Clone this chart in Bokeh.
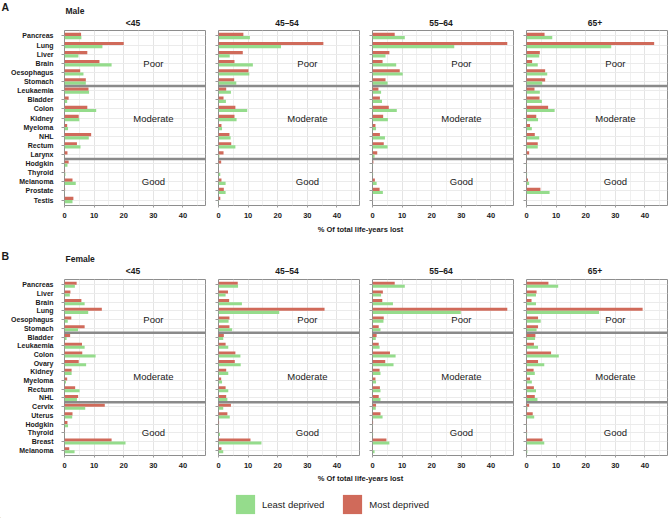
from bokeh.plotting import figure
from bokeh.models import FactorRange, Range1d, FixedTicker, ColumnDataSource, Legend, LegendItem
from bokeh.layouts import column, row
from bokeh.transform import dodge
from bokeh.core.properties import value
from bokeh.embed import file_html
from bokeh.resources import INLINE

# ---------------- data ----------------
ages = ["<45", "45–54", "55–64", "65+"]
groups = ["Poor", "Moderate", "Good"]

male_poor = ["Pancreas", "Lung", "Liver", "Brain", "Oesophagus", "Stomach"]
male_moderate = ["Leukaemia", "Bladder", "Colon", "Kidney", "Myeloma", "NHL", "Rectum", "Larynx"]
male_good = ["Hodgkin", "Thyroid", "Melanoma", "Prostate", "Testis"]

female_poor = ["Pancreas", "Liver", "Brain", "Lung", "Oesophagus", "Stomach"]
female_moderate = ["Bladder", "Leukaemia", "Colon", "Ovary", "Kidney", "Myeloma", "Rectum", "NHL"]
female_good = ["Cervix", "Uterus", "Hodgkin", "Thyroid", "Breast", "Melanoma"]

# % of total life-years lost (male, in male category order)
male_least_lt45 = [5.7, 12.8, 4.7, 15.9, 6.4, 7.2, 8.3, 0.9, 10.7, 5.0, 1.2, 8.2, 5.4, 0.1, 1.0, 0.3, 3.8, 0.1, 2.7]
male_most_lt45 = [5.6, 20.0, 7.7, 11.8, 5.3, 7.2, 8.1, 1.4, 7.7, 4.8, 0.9, 9.0, 4.2, 1.0, 1.4, 0.2, 2.7, 0.2, 3.0]
male_least_45_54 = [10.6, 21.1, 3.8, 11.6, 10.4, 6.0, 4.2, 2.5, 9.7, 6.1, 1.2, 4.1, 5.7, 0.3, 0.1, 0.6, 2.4, 2.4, 0.1]
male_most_45_54 = [8.4, 35.4, 8.2, 5.4, 10.1, 5.3, 2.6, 1.7, 5.7, 5.4, 1.0, 3.7, 4.3, 1.7, 0.9, 0.1, 1.0, 1.8, 0.6]
male_least_55_64 = [10.9, 27.6, 4.4, 8.0, 10.2, 5.1, 2.9, 3.2, 8.2, 5.2, 1.2, 4.2, 5.1, 0.7, 0.1, 0.2, 1.4, 3.5, 0.0]
male_most_55_64 = [7.5, 45.5, 5.7, 3.4, 9.2, 4.4, 2.0, 2.5, 5.5, 3.6, 1.0, 2.5, 3.8, 1.6, 0.3, 0.1, 0.8, 2.4, 0.1]
male_least_65 = [8.7, 28.6, 4.3, 3.8, 7.0, 5.3, 4.5, 5.2, 9.5, 3.9, 1.8, 4.3, 3.8, 0.1, 0.1, 0.2, 0.9, 7.8, 0.0]
male_most_65 = [6.1, 43.1, 4.5, 1.9, 6.3, 6.3, 2.7, 4.4, 7.3, 3.3, 1.2, 2.8, 3.8, 0.9, 0.1, 0.1, 0.5, 4.7, 0.1]

# % of total life-years lost (female, in female category order)
female_least_lt45 = [3.5, 1.8, 6.8, 8.0, 1.1, 4.6, 0.7, 6.8, 10.5, 7.3, 2.4, 0.5, 5.1, 4.2, 7.0, 2.6, 1.2, 0.1, 20.6, 3.4]
female_most_lt45 = [4.1, 2.0, 5.7, 12.6, 2.3, 6.8, 1.9, 5.9, 6.0, 4.8, 2.4, 0.9, 3.6, 4.6, 13.6, 2.7, 1.0, 0.1, 15.9, 1.6]
female_least_45_54 = [6.6, 2.4, 7.9, 20.5, 3.4, 4.6, 1.6, 3.3, 7.4, 7.5, 3.3, 1.2, 3.3, 3.0, 1.6, 3.8, 0.1, 0.5, 14.5, 1.6]
female_most_45_54 = [6.5, 3.2, 3.6, 35.8, 3.7, 3.7, 1.8, 2.4, 5.7, 5.5, 2.6, 0.9, 2.4, 2.6, 4.2, 3.0, 0.2, 0.1, 10.8, 1.0]
female_least_55_64 = [10.9, 2.9, 6.9, 29.8, 3.7, 2.7, 1.1, 2.4, 7.8, 7.1, 2.7, 1.2, 2.7, 2.7, 1.1, 3.4, 0.1, 0.2, 5.7, 0.7]
female_most_55_64 = [7.5, 3.5, 3.3, 45.5, 3.8, 2.1, 1.4, 2.1, 5.9, 4.3, 2.4, 1.0, 2.5, 2.1, 1.2, 2.7, 0.2, 0.1, 4.7, 0.1]
female_least_65 = [10.7, 3.2, 3.2, 24.5, 4.8, 3.4, 2.9, 3.9, 10.9, 6.0, 2.8, 1.8, 3.2, 3.7, 0.3, 2.6, 0.1, 0.2, 6.0, 0.3]
female_most_65 = [7.4, 3.4, 1.7, 39.2, 3.9, 3.9, 3.0, 2.5, 8.3, 3.9, 2.4, 1.2, 2.5, 2.8, 0.9, 2.1, 0.1, 0.2, 5.4, 0.2]

x_ticks = [0, 10, 20, 30, 40]
x_minor = [5, 15, 25, 35, 45]
x_max = 47.6
axis_title = "% Of total life-years lost"
legend_labels = ["Least deprived", "Most deprived"]

# ---------------- style / layout ----------------
FONT = "Liberation Sans"
RED = "#D06A5A"
GREEN = "#95DC8C"
BORDER = "#8e8e8e"
SEP = "#8a8a8a"
TEXT = "#1a1a1a"

FRAME_W = 141
LEFT1 = 64
LEFTN = 6
RIGHT = 7
RIGHT_LAST = 2
TOP = 1
BOTTOM = 14
TOTAL_W = 669
LABEL_X = 30  # x (data units) of the prognosis text labels
TITLE_X = 360

male_label_at = [("Brain", 0), ("Kidney", 0), ("Melanoma", 0)]
female_label_at = [("Oesophagus", 0), ("Kidney", -0.5), ("Thyroid", 0)]


def panel(group_lists, least, most, label_at, first, last, frame_h):
    cats = [c for g in group_lists for c in g]
    yr = FactorRange(factors=list(reversed(cats)), range_padding=0.1,
                     range_padding_units="absolute")
    left = LEFT1 if first else LEFTN
    right = RIGHT_LAST if last else RIGHT
    p = figure(width=left + FRAME_W + right, height=TOP + frame_h + BOTTOM,
               x_range=Range1d(0, x_max), y_range=yr,
               output_backend="svg", toolbar_location=None,
               min_border_left=left, min_border_right=right,
               min_border_top=TOP, min_border_bottom=BOTTOM)
    p.background_fill_color = "white"
    p.border_fill_color = "white"
    p.outline_line_color = BORDER
    p.outline_line_width = 1

    ticker = FixedTicker(ticks=x_ticks, minor_ticks=x_minor)
    p.xaxis.ticker = ticker
    p.xgrid.ticker = ticker
    p.xgrid.grid_line_color = "#e4e4e4"
    p.xgrid.minor_grid_line_color = "#f0f0f0"
    p.ygrid.grid_line_color = "#ebebeb"

    for ax in (p.xaxis[0], p.yaxis[0]):
        ax.axis_line_color = None
        ax.major_tick_line_color = "#9a9a9a"
        ax.major_tick_in = 0
        ax.minor_tick_line_color = None
        ax.major_label_text_font = FONT
        ax.major_label_text_font_style = "bold"
        ax.major_label_text_color = TEXT
    p.xaxis.major_tick_out = 2
    p.xaxis.major_label_standoff = 3
    p.xaxis.major_label_text_font_size = "7.5px"
    p.yaxis.major_tick_out = 3
    if first:
        p.yaxis.major_label_text_font_size = "7px"
        p.yaxis.major_label_standoff = 8
    else:
        p.yaxis.major_label_text_font_size = "0px"
        p.yaxis.major_label_text_color = None
        p.yaxis.major_label_standoff = 0

    src = ColumnDataSource(dict(cancer=cats, least=least, most=most))
    p.hbar(y=dodge("cancer", 0.175, range=yr), left=0, right="most", height=0.35,
           fill_color=RED, line_color=None, source=src)
    p.hbar(y=dodge("cancer", -0.175, range=yr), left=0, right="least", height=0.35,
           fill_color=GREEN, line_color=None, source=src)

    bounds = [(g[-1], -0.5) for g in group_lists[:-1]]
    p.segment(x0=0, x1=x_max, y0=bounds, y1=bounds, line_color=SEP, line_width=2.5)

    p.text(x=[LABEL_X] * len(groups), y=label_at, text=groups,
           text_font=value(FONT), text_font_size="9.5px", text_color=TEXT,
           text_align="center", text_baseline="middle")
    return p


def strip(h):
    s = figure(width=TOTAL_W, height=h, x_range=Range1d(0, TOTAL_W), y_range=Range1d(0, h),
               output_backend="svg", toolbar_location=None,
               x_axis_type=None, y_axis_type=None, min_border=0)
    s.outline_line_color = None
    s.background_fill_color = "white"
    s.border_fill_color = "white"
    return s


def put(s, x, y, txt, size, bold=True, align="left"):
    s.text(x=[x], y=[y], text=[txt], text_font=value(FONT), text_font_size=size,
           text_font_style="bold" if bold else "normal", text_color=TEXT,
           text_align=align, text_baseline="middle")


col_centers = [LEFT1 + FRAME_W / 2 - 2 + i * (FRAME_W + LEFTN + RIGHT) for i in range(len(ages))]

# header strip
s0 = strip(29)
put(s0, 1, 22.5, "A", "10.5px")
put(s0, 65, 19, "Male", "8.5px")
for cx, a in zip(col_centers, ages):
    put(s0, cx, 7, a, "8.5px", align="center")

male_least = [male_least_lt45, male_least_45_54, male_least_55_64, male_least_65]
male_most = [male_most_lt45, male_most_45_54, male_most_55_64, male_most_65]
female_least = [female_least_lt45, female_least_45_54, female_least_55_64, female_least_65]
female_most = [female_most_lt45, female_most_45_54, female_most_55_64, female_most_65]

male_row = row(*[panel([male_poor, male_moderate, male_good], male_least[i], male_most[i],
                       male_label_at, i == 0, i == 3, 176) for i in range(4)])

s1 = strip(58)
put(s1, TITLE_X, 49, axis_title, "7.5px", align="center")
put(s1, 1, 23, "B", "10.5px")
put(s1, 65, 20, "Female", "8.5px")
for cx, a in zip(col_centers, ages):
    put(s1, cx, 8, a, "8.5px", align="center")

female_row = row(*[panel([female_poor, female_moderate, female_good], female_least[i], female_most[i],
                         female_label_at, i == 0, i == 3, 177) for i in range(4)])

s2 = strip(48)
put(s2, TITLE_X, 40, axis_title, "7.5px", align="center")
# legend-only renderers (their single point lies outside the visible range)
r_least = s2.vbar(x=[-100], top=[1], width=1, fill_color=GREEN, line_color=None)
r_most = s2.vbar(x=[-100], top=[1], width=1, fill_color=RED, line_color=None)
legend = Legend(items=[LegendItem(label=legend_labels[0], renderers=[r_least]),
                       LegendItem(label=legend_labels[1], renderers=[r_most])],
                orientation="horizontal", location=(233, 2),
                glyph_width=24, glyph_height=24, label_standoff=5, spacing=16,
                padding=0, margin=0, border_line_color=None, background_fill_alpha=0,
                label_text_font=FONT, label_text_font_size="9.5px", label_text_color="#222222")
s2.add_layout(legend, "center")

layout = column(s0, male_row, s1, female_row, s2)

with open("out.html", "w") as f:
    f.write(file_html(layout, INLINE))
